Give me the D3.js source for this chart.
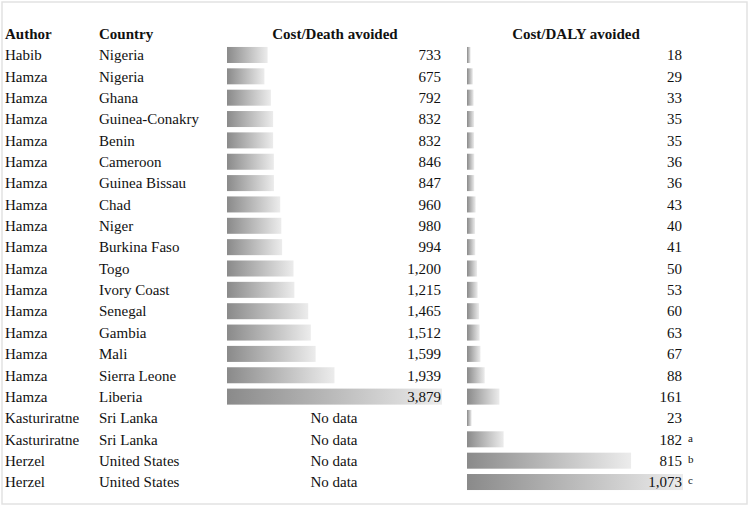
<!DOCTYPE html>
<html>
<head>
<meta charset="utf-8">
<script src="https://cdn.jsdelivr.net/npm/d3@7"></script>
<style>
  body { margin: 0; background: #fff; }
  svg text { font-size: 15px; fill: #111; }
  .head { font-weight: bold; }
  .note { font-size: 11px; }
</style>
</head>
<body>
<div class="chart"></div>
<script>
var svgWidth = 750;
var svgHeight = 508;

// data
var authors = ["Habib", "Hamza", "Hamza", "Hamza", "Hamza", "Hamza", "Hamza", "Hamza", "Hamza", "Hamza",
  "Hamza", "Hamza", "Hamza", "Hamza", "Hamza", "Hamza", "Hamza", "Kasturiratne", "Kasturiratne", "Herzel", "Herzel"];
var countries = ["Nigeria", "Nigeria", "Ghana", "Guinea-Conakry", "Benin", "Cameroon", "Guinea Bissau", "Chad",
  "Niger", "Burkina Faso", "Togo", "Ivory Coast", "Senegal", "Gambia", "Mali", "Sierra Leone", "Liberia",
  "Sri Lanka", "Sri Lanka", "United States", "United States"];
var costDeath = [733, 675, 792, 832, 832, 846, 847, 960, 980, 994, 1200, 1215, 1465, 1512, 1599, 1939, 3879,
  null, null, null, null];
var costDaly = [18, 29, 33, 35, 35, 36, 36, 43, 40, 41, 50, 53, 60, 63, 67, 88, 161, 23, 182, 815, 1073];
var notes = ["", "", "", "", "", "", "", "", "", "", "", "", "", "", "", "", "", "", "a", "b", "c"];

var rows = d3.range(authors.length);

var svg = d3.select(".chart")
  .append("svg")
  .attr("width", svgWidth)
  .attr("height", svgHeight)
  .attr("font-family", "'Liberation Serif', Tinos, 'Times New Roman', 'DejaVu Serif', serif");

// light frame
svg.append("rect")
  .attr("x", 2).attr("y", 2)
  .attr("width", 745).attr("height", 502)
  .attr("fill", "none")
  .attr("stroke", "#e2e2e2")
  .attr("stroke-width", 1.5);

var defs = svg.append("defs");
var grad = defs.append("linearGradient")
  .attr("id", "barGrad")
  .attr("x1", "0%").attr("x2", "100%")
  .attr("y1", "0%").attr("y2", "0%");
grad.append("stop").attr("offset", "0%").attr("stop-color", "#8a8a8a");
grad.append("stop").attr("offset", "100%").attr("stop-color", "#ececec");

var y = d3.scaleBand()
  .domain(rows)
  .range([44.3, 492.7])
  .paddingInner(0.25)
  .paddingOuter(0.125);

var yc = function (i) { return y(i) + y.bandwidth() / 2; };

var xDeath = d3.scaleLinear()
  .domain([0, 3879])
  .range([227, 442]);

var xDaly = d3.scaleLinear()
  .domain([0, 1073])
  .range([467, 683]);

// headers
var headY = 34;
svg.append("text").attr("class", "head").attr("x", 5).attr("y", headY).attr("dy", "0.35em").text("Author");
svg.append("text").attr("class", "head").attr("x", 99).attr("y", headY).attr("dy", "0.35em").text("Country");
svg.append("text").attr("class", "head").attr("x", 335).attr("y", headY).attr("dy", "0.35em")
  .attr("text-anchor", "middle").text("Cost/Death avoided");
svg.append("text").attr("class", "head").attr("x", 576).attr("y", headY).attr("dy", "0.35em")
  .attr("text-anchor", "middle").text("Cost/DALY avoided");

// author / country columns
svg.selectAll(".author")
  .data(rows)
  .enter()
  .append("text")
  .attr("class", "author")
  .attr("x", 5)
  .attr("y", d => yc(d))
  .attr("dy", "0.35em")
  .text(d => authors[d]);

svg.selectAll(".country")
  .data(rows)
  .enter()
  .append("text")
  .attr("class", "country")
  .attr("x", 99)
  .attr("y", d => yc(d))
  .attr("dy", "0.35em")
  .text(d => countries[d]);

// cost per death bars
var fmt = d3.format(",");
var deathRows = rows.filter(d => costDeath[d] != null);

svg.selectAll(".deathBar")
  .data(deathRows)
  .enter()
  .append("rect")
  .attr("class", "deathBar")
  .attr("x", xDeath(0))
  .attr("y", d => y(d))
  .attr("width", d => xDeath(costDeath[d]) - xDeath(0))
  .attr("height", y.bandwidth())
  .attr("fill", "url(#barGrad)");

svg.selectAll(".deathVal")
  .data(rows)
  .enter()
  .append("text")
  .attr("class", "deathVal")
  .attr("x", d => costDeath[d] == null ? 334 : 441)
  .attr("y", d => yc(d))
  .attr("dy", "0.35em")
  .attr("text-anchor", d => costDeath[d] == null ? "middle" : "end")
  .text(d => costDeath[d] == null ? "No data" : fmt(costDeath[d]));

// cost per DALY bars
svg.selectAll(".dalyBar")
  .data(rows)
  .enter()
  .append("rect")
  .attr("class", "dalyBar")
  .attr("x", xDaly(0))
  .attr("y", d => y(d))
  .attr("width", d => xDaly(costDaly[d]) - xDaly(0))
  .attr("height", y.bandwidth())
  .attr("fill", "url(#barGrad)");

svg.selectAll(".dalyVal")
  .data(rows)
  .enter()
  .append("text")
  .attr("class", "dalyVal")
  .attr("x", 682)
  .attr("y", d => yc(d))
  .attr("dy", "0.35em")
  .attr("text-anchor", "end")
  .text(d => fmt(costDaly[d]));

svg.selectAll(".note")
  .data(rows.filter(d => notes[d]))
  .enter()
  .append("text")
  .attr("class", "note")
  .attr("x", 688)
  .attr("y", d => yc(d))
  .attr("dy", "0.2em")
  .text(d => notes[d]);
</script>
</body>
</html>
